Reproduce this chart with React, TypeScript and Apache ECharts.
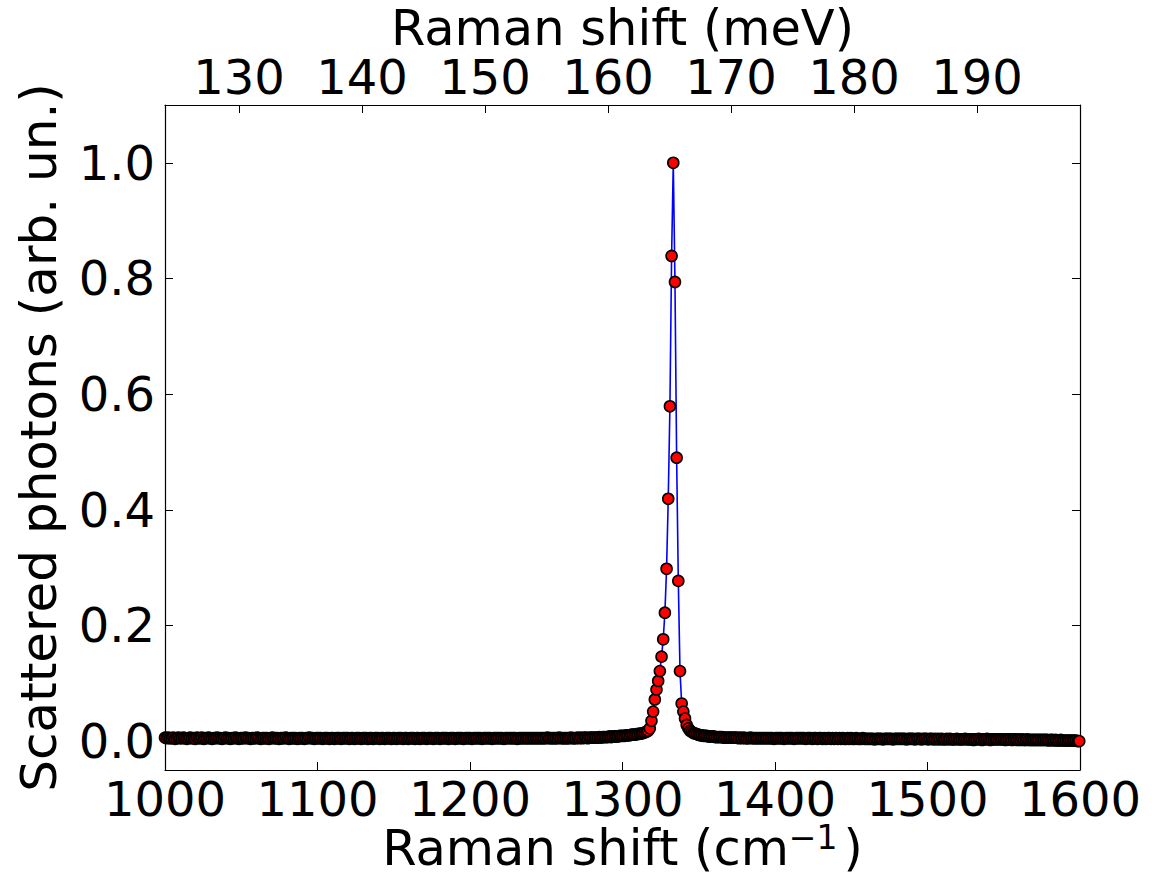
import React, { useEffect, useRef } from "react";
import * as echarts from "echarts";

// Raman shift sampling grid (cm^-1)
const SHIFT_START = 1000;
const SHIFT_STEP = 1.1;
const CM_TO_MEV = 0.123984;

// Scattered photon intensity (arb. un.)
const baselineLeft = [
  0.006,0.005,0.006,0.005,0.005,0.006,0.004,0.005,0.006,0.005,0.005,0.006,0.005,0.004,0.005,0.006,0.005,0.005,0.004,0.006,
  0.005,0.005,0.006,0.004,0.005,0.005,0.006,0.005,0.004,0.005,0.005,0.006,0.005,0.005,0.004,0.005,0.006,0.005,0.005,0.004,
  0.005,0.005,0.006,0.005,0.004,0.005,0.005,0.005,0.006,0.005,0.005,0.004,0.005,0.005,0.005,0.006,0.005,0.004,0.005,0.005,
  0.005,0.005,0.004,0.005,0.006,0.005,0.005,0.005,0.004,0.005,0.005,0.005,0.006,0.005,0.004,0.005,0.005,0.005,0.005,0.004,
  0.005,0.005,0.005,0.004,0.005,0.005,0.006,0.005,0.005,0.004,0.005,0.005,0.005,0.005,0.004,0.005,0.005,0.005,0.004,0.005,
  0.005,0.004,0.005,0.005,0.005,0.004,0.005,0.005,0.005,0.005,0.004,0.005,0.005,0.004,0.005,0.005,0.005,0.004,0.005,0.005,
  0.005,0.004,0.005,0.005,0.004,0.005,0.005,0.005,0.004,0.005,0.005,0.004,0.005,0.005,0.005,0.004,0.005,0.005,0.004,0.005,
  0.005,0.005,0.004,0.005,0.005,0.004,0.005,0.005,0.005,0.004,0.005,0.005,0.004,0.005,0.005,0.005,0.004,0.005,0.005,0.005,
  0.004,0.005,0.005,0.005,0.004,0.005,0.005,0.005,0.005,0.004,0.005,0.005,0.005,0.004,0.005,0.005,0.005,0.005,0.004,0.005,
  0.005,0.005,0.005,0.004,0.005,0.005,0.005,0.005,0.005,0.004,0.005,0.005,0.005,0.005,0.005,0.004,0.005,0.005,0.005,0.005,
  0.005,0.005,0.004,0.005,0.005,0.005,0.005,0.005,0.005,0.005,0.004,0.005,0.005,0.005,0.005,0.005,0.005,0.005,0.005,0.005,
  0.005,0.005,0.005,0.005,0.005,0.005,0.005,0.005,0.006,0.005,0.005,0.005,0.005,0.005,0.005,0.006,0.005,0.005,0.005,0.005,
  0.005,0.005,0.006,0.005,0.005,0.005,0.006,0.005,0.006,0.005,0.006,0.006,0.005,0.006,0.006,0.006,0.006,0.006,0.006,0.007,
  0.006,0.007,0.007,0.007,0.007,0.008,0.007,0.008,0.008,0.008,0.008,0.009,0.009,0.009,0.009,0.010,0.010,0.010,0.011,0.011,
  0.011,0.012,0.012,0.013,0.013,0.014,0.015,0.016,0.018,
];

const peakValues = [
  0.022,0.035,0.051,0.072,0.089,0.104,0.121,0.146,0.176,0.222,0.298,0.419,0.579,0.839,
  1.000,
  0.794,0.490,0.277,0.121,0.065,0.051,0.039,0.028,0.022,0.018,0.016,0.014,0.013,0.012,0.011,0.010,
];

const baselineRight = [
  0.010,0.009,0.009,0.009,0.008,0.008,0.008,0.008,0.007,0.007,0.007,0.007,0.007,0.006,0.006,0.006,0.006,0.006,0.006,0.006,
  0.006,0.006,0.005,0.006,0.005,0.006,0.005,0.005,0.005,0.006,0.005,0.005,0.005,0.005,0.005,0.005,0.005,0.005,0.005,0.005,
  0.005,0.005,0.005,0.004,0.005,0.005,0.005,0.005,0.005,0.004,0.005,0.005,0.005,0.005,0.005,0.004,0.005,0.005,0.005,0.005,
  0.005,0.005,0.004,0.005,0.005,0.005,0.004,0.005,0.005,0.004,0.005,0.005,0.004,0.005,0.004,0.005,0.005,0.004,0.005,0.004,
  0.005,0.004,0.005,0.004,0.005,0.004,0.004,0.005,0.004,0.005,0.004,0.004,0.005,0.004,0.004,0.004,0.005,0.004,0.004,0.004,
  0.004,0.004,0.004,0.003,0.004,0.004,0.004,0.004,0.003,0.004,0.004,0.004,0.004,0.004,0.003,0.004,0.004,0.004,0.004,0.004,
  0.004,0.004,0.003,0.004,0.004,0.004,0.004,0.003,0.004,0.004,0.004,0.003,0.004,0.004,0.004,0.003,0.004,0.004,0.003,0.004,
  0.003,0.004,0.003,0.004,0.003,0.003,0.004,0.003,0.004,0.003,0.003,0.003,0.004,0.003,0.003,0.003,0.003,0.004,0.003,0.003,
  0.003,0.003,0.002,0.003,0.003,0.004,0.003,0.002,0.003,0.003,0.004,0.003,0.002,0.003,0.003,0.003,0.003,0.003,0.003,0.003,
  0.003,0.002,0.003,0.003,0.003,0.002,0.003,0.003,0.002,0.003,0.002,0.003,0.002,0.002,0.003,0.002,0.002,0.002,0.002,0.002,
  0.002,0.002,0.002,0.002,0.002,0.002,0.002,0.001,0.002,0.002,0.001,0.002,0.001,0.001,0.002,0.001,0.001,0.001,0.001,0.001,
  0.001,0.001,0.001,0.001,0.000,0.000,
];

const yTicks = [0, 0.2, 0.4, 0.6, 0.8, 1.0];
const meVTicks = [130, 140, 150, 160, 170, 180, 190];

const FONT = "DejaVu Sans";

export default function App() {
  const ref = useRef<HTMLDivElement>(null);

  useEffect(() => {
    if (!ref.current) return;
    const chart = echarts.init(ref.current, undefined, { renderer: "svg" });
    const intensity = [...baselineLeft, ...peakValues, ...baselineRight];
    const data = intensity.map((v, i) => [SHIFT_START + i * SHIFT_STEP, v]);
    const meVPositions = meVTicks.map((m) => m / CM_TO_MEV);

    const labelStyle = { fontFamily: FONT, fontSize: 48, color: "#000" };
    const axisLine = { show: true, onZero: false, lineStyle: { color: "#000", width: 1.2 } };

    chart.setOption({
      animation: false,
      backgroundColor: "#fff",
      grid: {
        left: 165,
        right: 78,
        top: 105,
        bottom: 110,
        containLabel: false,
        outerBoundsMode: "none",
      },
      xAxis: [
        {
          type: "value",
          position: "bottom",
          min: 1000,
          max: 1600,
          interval: 100,
          axisLine,
          axisTick: { show: true, inside: true, length: 8, lineStyle: { color: "#000", width: 1 } },
          axisLabel: { ...labelStyle, margin: 6, lineHeight: 46, formatter: (v: number) => String(v) },
          splitLine: { show: false },
          name: "Raman shift (cm{sup|−1})",
          nameLocation: "middle",
          nameGap: 57,
          nameMoveOverlap: false,
          nameTextStyle: {
            fontFamily: FONT,
            fontSize: 49.5,
            lineHeight: 42,
            color: "#000",
            rich: {
              sup: {
                fontFamily: FONT,
                fontSize: 33,
                lineHeight: 18,
                color: "#000",
                padding: [0, 6, 22, 0],
              },
            },
          },
        },
        {
          type: "value",
          position: "top",
          min: 1000,
          max: 1600,
          axisLine,
          axisTick: {
            show: true,
            inside: true,
            length: 8,
            customValues: meVPositions,
            lineStyle: { color: "#000", width: 1 },
          },
          axisLabel: {
            ...labelStyle,
            margin: 6,
            lineHeight: 44,
            customValues: meVPositions,
            formatter: (v: number) => String(Math.round(v * CM_TO_MEV)),
          },
          splitLine: { show: false },
          name: "Raman shift (meV)",
          nameLocation: "middle",
          nameGap: 55,
          nameMoveOverlap: false,
          nameTextStyle: { fontFamily: FONT, fontSize: 49.5, lineHeight: 44, color: "#000" },
        },
      ],
      yAxis: [
        {
          type: "value",
          position: "left",
          min: -0.05,
          max: 1.1,
          axisLine,
          axisTick: {
            show: true,
            inside: true,
            length: 8,
            customValues: yTicks,
            lineStyle: { color: "#000", width: 1 },
          },
          axisLabel: {
            ...labelStyle,
            margin: 10,
            customValues: yTicks,
            formatter: (v: number) => v.toFixed(1),
          },
          splitLine: { show: false },
          name: "Scattered photons (arb. un.)",
          nameLocation: "middle",
          nameRotate: 90,
          nameGap: 101,
          nameTextStyle: { fontFamily: FONT, fontSize: 50, color: "#000" },
        },
        {
          type: "value",
          position: "right",
          min: -0.05,
          max: 1.1,
          axisLine,
          axisTick: {
            show: true,
            inside: true,
            length: 8,
            customValues: yTicks,
            lineStyle: { color: "#000", width: 1 },
          },
          axisLabel: { show: false },
          splitLine: { show: false },
        },
      ],
      series: [
        {
          type: "line",
          xAxisIndex: 0,
          yAxisIndex: 0,
          data,
          showAllSymbol: true,
          symbol: "circle",
          symbolSize: 11,
          clip: true,
          lineStyle: { color: "#0000ff", width: 1.6 },
          itemStyle: { color: "#ff0000", borderColor: "#000", borderWidth: 1.6 },
          emphasis: { disabled: true },
        },
      ],
    });

    return () => chart.dispose();
  }, []);

  return (
    <div
      ref={ref}
      style={{ position: "fixed", left: 0, top: 0, width: 1158, height: 880, background: "#fff" }}
    />
  );
}
